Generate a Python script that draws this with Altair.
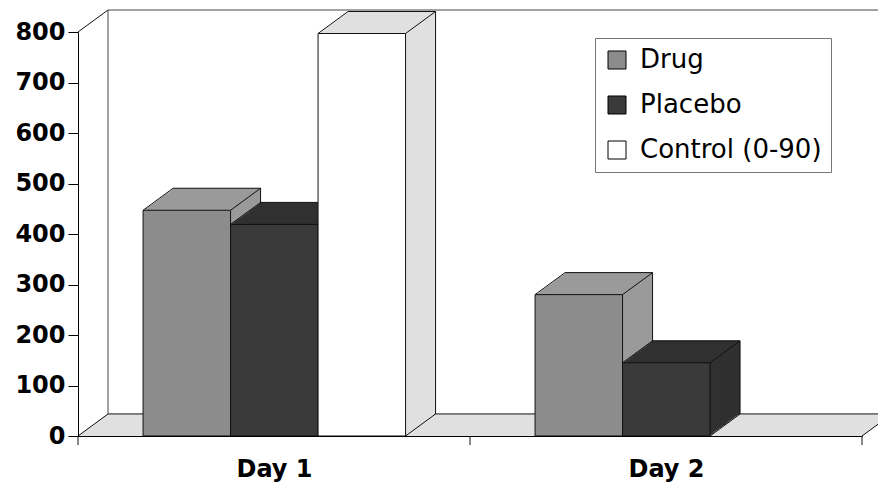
import json
import altair as alt
import pandas as pd

# ---------------- data ----------------
DAYS = ["Day 1", "Day 2"]
SERIES = ["Drug", "Placebo", "Control (0-90)"]
DRUG = [447, 280]
PLACEBO = [419, 145]
CONTROL = [797, 0]
Y_TICKS = [0, 100, 200, 300, 400, 500, 600, 700, 800]

# ---------------- styles ----------------
FRONT_COLORS = ["#8c8c8c", "#3a3a3a", "#ffffff"]
DEPTH_COLORS = ["#9a9a9a", "#303030", "#e0e0e0"]
FLOOR_COLOR = "#e0e0e0"
EDGE = "#111111"
WALL_EDGE = "#444444"

# layout (fractions of a day band, pixel depth of the 3-D effect)
PAD = 0.166
BW = 0.2232
DX = 30
DY = 22
N = 20

rows = []
for di, day in enumerate(DAYS):
    for si, (s, vals) in enumerate(zip(SERIES, [DRUG, PLACEBO, CONTROL])):
        rows.append({"day": day, "dayIndex": di, "series": s, "seriesIndex": si, "value": vals[di]})
df = pd.DataFrame(rows)

frame = pd.DataFrame({"lo_x": [0], "hi_x": [len(DAYS)], "lo_y": [Y_TICKS[0]], "hi_y": [Y_TICKS[-1]]})
bounds = pd.DataFrame({"b": list(range(len(DAYS) + 1)), "base": [Y_TICKS[0]] * (len(DAYS) + 1)})

X_SCALE = alt.Scale(domain=[0, len(DAYS)], nice=False, zero=False)
Y_SCALE = alt.Scale(domain=[Y_TICKS[0], Y_TICKS[-1]], nice=False)

def bars_src(s=None):
    c = alt.Chart(df).transform_filter("datum.value > 0")
    if s is not None:
        c = c.transform_filter(alt.FieldEqualPredicate(field="series", equal=s))
    return c.transform_calculate(
        x0=f"datum.dayIndex + {PAD} + datum.seriesIndex * {BW}",
        x1=f"datum.dayIndex + {PAD} + (datum.seriesIndex + 1) * {BW}",
    )

layers = []

# back wall
layers.append(
    alt.Chart(frame).mark_rect(fill="white", stroke=WALL_EDGE, strokeWidth=1,
                               xOffset=DX, x2Offset=DX, yOffset=-DY, y2Offset=-DY)
    .encode(x=alt.X("lo_x:Q", scale=X_SCALE), x2="hi_x", y=alt.Y("lo_y:Q", scale=Y_SCALE), y2="hi_y")
)
# floor (swept)
for k in range(N - 1, -1, -1):
    layers.append(
        alt.Chart(frame).mark_rule(color=FLOOR_COLOR, strokeWidth=1.8,
                                   xOffset=DX * k / N, x2Offset=DX * k / N, yOffset=-DY * k / N)
        .encode(x="lo_x:Q", x2="hi_x", y="lo_y:Q")
    )
# floor back edge
layers.append(
    alt.Chart(frame).mark_rule(color=WALL_EDGE, strokeWidth=1, xOffset=DX, x2Offset=DX, yOffset=-DY)
    .encode(x="lo_x:Q", x2="hi_x", y="lo_y:Q")
)
# wall / floor diagonals
for xf, yf in [("lo_x", "hi_y"), ("lo_x", "lo_y"), ("hi_x", "lo_y")]:
    layers.append(
        alt.Chart(frame).mark_rule(color=EDGE, strokeWidth=1, x2Offset=DX, y2Offset=-DY)
        .encode(x=f"{xf}:Q", x2=xf, y=f"{yf}:Q", y2=yf)
    )
# day boundary ticks
layers.append(
    alt.Chart(bounds).mark_rule(color=EDGE, strokeWidth=1, y2Offset=9)
    .encode(x="b:Q", y="base:Q", y2="base")
)

# bars: depth sweep + edges, series by series (left to right)
for s, dc in zip(SERIES, DEPTH_COLORS):
    for k in range(N, 0, -1):
        layers.append(
            bars_src(s).mark_rect(fill=dc, xOffset=DX * k / N, x2Offset=DX * k / N,
                                  yOffset=-DY * k / N, y2Offset=-DY * k / N)
            .encode(x="x0:Q", x2="x1", y="value:Q", y2=alt.Y2(datum=0))
        )
    # back top edge
    layers.append(
        bars_src(s).mark_rule(color=EDGE, strokeWidth=1, xOffset=DX, x2Offset=DX, yOffset=-DY)
        .encode(x="x0:Q", x2="x1", y="value:Q")
    )
    # back right edge
    layers.append(
        bars_src(s).mark_rule(color=EDGE, strokeWidth=1, xOffset=DX, yOffset=-DY, y2Offset=-DY)
        .encode(x="x1:Q", y="value:Q", y2=alt.Y2(datum=0))
    )
    # diagonals
    for xf, top in [("x0", True), ("x1", True), ("x1", False)]:
        if top:
            enc = dict(x=f"{xf}:Q", x2=xf, y="value:Q", y2="value")
        else:
            enc = dict(x=f"{xf}:Q", x2=xf, y=alt.Y(datum=0), y2=alt.Y2(datum=0))
        layers.append(
            bars_src(s).mark_rule(color=EDGE, strokeWidth=1, x2Offset=DX, y2Offset=-DY).encode(**enc)
        )

# front faces (with axes and legend)
label_expr = f"{json.dumps(DAYS)}[floor(datum.value)]"
front = bars_src().mark_rect(stroke=EDGE, strokeWidth=1).encode(
    x=alt.X("x0:Q", scale=X_SCALE,
            axis=alt.Axis(values=[i + 0.5 for i in range(len(DAYS))], labelExpr=label_expr,
                          title=None, tickSize=0, labelPadding=21, grid=False,
                          labelFont="DejaVu Sans", labelFontWeight="bold", labelFontSize=24,
                          labelColor="black", domainColor="black", domainWidth=1, zindex=1)),
    x2="x1",
    y=alt.Y("value:Q", scale=Y_SCALE,
            axis=alt.Axis(values=Y_TICKS, title=None, tickSize=10, tickColor="black",
                          labelPadding=3, grid=False, labelFont="DejaVu Sans",
                          labelFontWeight="bold", labelFontSize=24, labelColor="black",
                          domainColor="black", domainWidth=1, zindex=1)),
    y2=alt.Y2(datum=0),
    fill=alt.Fill("series:N", scale=alt.Scale(domain=SERIES, range=FRONT_COLORS),
                  legend=alt.Legend(title=None, orient="none", legendX=517, legendY=6,
                                    symbolType="square", symbolSize=324,
                                    symbolStrokeColor="black", symbolStrokeWidth=1,
                                    labelFont="DejaVu Sans", labelFontSize=26, labelLimit=400,
                                    labelColor="black", labelOffset=10, rowPadding=19,
                                    padding=9, strokeColor="#777777", fillColor="white")),
)
layers.append(front)

chart = alt.layer(*layers).properties(
    width=784, height=404,
    autosize=alt.AutoSizeParams(type="none"),
    padding={"left": 70, "top": 24, "right": 16, "bottom": 47},
).configure_view(stroke=None)

chart.save("out.html", embed_options={"renderer": "svg", "actions": False})
